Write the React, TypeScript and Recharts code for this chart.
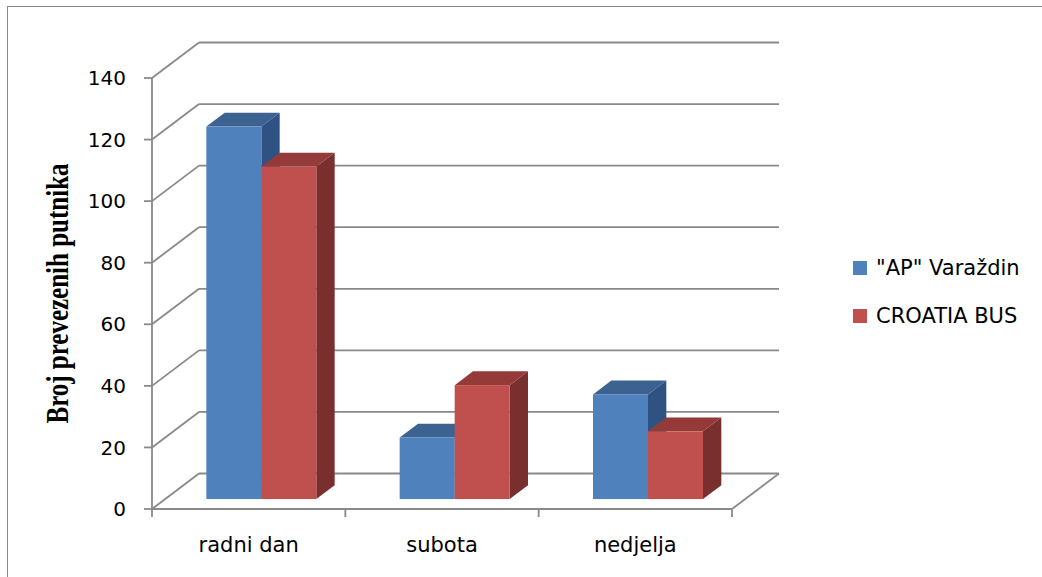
import React from "react";
import { Bar, BarChart, CartesianGrid, XAxis, YAxis } from "recharts";

export const days = ["radni dan", "subota", "nedjelja"];
export const apVarazdin = [121, 20, 34];
export const croatiaBus = [108, 37, 22];
export const yTicks = [0, 20, 40, 60, 80, 100, 120, 140];

const seriesNames = ['"AP" Varaždin', "CROATIA BUS"];

const data = days.map((day, i) => ({
  day,
  ap: apVarazdin[i],
  cb: croatiaBus[i],
}));

// oblique depth of the whole "box" (front plane -> back wall)
const DX = 47;
const DY = 35.5;
// bars start a bit behind the front plane and have their own depth
const BAR_FRONT = 0.28;
const BAR_DEPTH = 0.39;

const GRID = "#898989";
const LW = 1.8;
const FONT = "'DejaVu Sans', sans-serif";

const colors = {
  ap: { front: "#4F81BD", top: "#3C6292", side: "#2F5283" },
  cb: { front: "#C0504D", top: "#943B39", side: "#7A2F2F" },
};

const makeBar = (c: { front: string; top: string; side: string }) => (props: any) => {
  const { x, y, width, height } = props;
  const fx = x + DX * BAR_FRONT;
  const fy = y - DY * BAR_FRONT;
  const dx = DX * BAR_DEPTH;
  const dy = DY * BAR_DEPTH;
  const r = fx + width;
  const b = fy + height;
  return (
    <g>
      <polygon
        points={`${fx},${fy} ${fx + dx},${fy - dy} ${r + dx},${fy - dy} ${r},${fy}`}
        fill={c.top}
      />
      <polygon
        points={`${r},${fy} ${r + dx},${fy - dy} ${r + dx},${b - dy} ${r},${b}`}
        fill={c.side}
      />
      <rect x={fx} y={fy} width={width} height={height} fill={c.front} />
    </g>
  );
};

const gridLine = (props: any) => {
  const { x1, y1, x2, key } = props;
  return (
    <g key={key}>
      <line x1={x1} y1={y1} x2={x1 + DX} y2={y1 - DY} stroke={GRID} strokeWidth={LW} />
      <line x1={x1 + DX} y1={y1 - DY} x2={x2 + DX} y2={y1 - DY} stroke={GRID} strokeWidth={LW} />
    </g>
  );
};

const DayTick = (props: any) => {
  const { x, y, payload, index, visibleTicksCount } = props;
  const half = payload.offset ?? 0;
  const last = index === visibleTicksCount - 1;
  return (
    <g>
      <line x1={x - half} y1={y} x2={x - half} y2={y + 8} stroke={GRID} strokeWidth={LW} />
      {last && (
        <>
          <line x1={x + half} y1={y} x2={x + half} y2={y + 8} stroke={GRID} strokeWidth={LW} />
          <line x1={x + half} y1={y} x2={x + half + DX} y2={y - DY} stroke={GRID} strokeWidth={LW} />
        </>
      )}
      <text x={x} y={y + 43} textAnchor="middle" fontFamily={FONT} fontSize={21} fill="#000">
        {payload.value}
      </text>
    </g>
  );
};

const AxisTitle = (props: any) => {
  const { viewBox } = props;
  const cx = viewBox.x + 68;
  const cy = viewBox.y + viewBox.height / 2;
  return (
    <text
      x={0}
      y={0}
      transform={`translate(${cx}, ${cy}) rotate(-90) scale(1, 1.25)`}
      textAnchor="middle"
      fontFamily="'Liberation Serif', 'Times New Roman', serif"
      fontWeight="bold"
      fontSize={25}
      fill="#000"
    >
      Broj prevezenih putnika
    </text>
  );
};

export default function App() {
  return (
    <div
      style={{
        position: "absolute",
        left: 0,
        top: 0,
        width: 1042,
        height: 577,
        background: "#fff",
        overflow: "hidden",
      }}
    >
      <div
        style={{
          position: "absolute",
          left: 7,
          top: 6,
          width: 1100,
          height: 700,
          borderLeft: "1px solid #8a8a8a",
          borderTop: "1px solid #8a8a8a",
        }}
      />
      <div style={{ position: "absolute", left: 0, top: 0 }}>
        <BarChart
          width={1042}
          height={577}
          data={data}
          margin={{ top: 78, right: 310, bottom: 0, left: 0 }}
          barCategoryGap="21.3%"
          barGap={0}
        >
          <CartesianGrid vertical={false} horizontal={gridLine} />
          <XAxis
            dataKey="day"
            height={68}
            tickLine={false}
            tickSize={0}
            tickMargin={0}
            axisLine={{ stroke: GRID, strokeWidth: LW }}
            tick={<DayTick />}
            interval={0}
          />
          <YAxis
            width={152}
            domain={[0, 140]}
            ticks={yTicks}
            interval={0}
            tickSize={8}
            tickMargin={18}
            axisLine={{ stroke: GRID, strokeWidth: LW }}
            tickLine={{ stroke: GRID, strokeWidth: LW }}
            tick={{ fontFamily: FONT, fontSize: 20, fill: "#000" }}
            label={<AxisTitle />}
          />
          <Bar dataKey="ap" name={seriesNames[0]} shape={makeBar(colors.ap)} isAnimationActive={false} />
          <Bar dataKey="cb" name={seriesNames[1]} shape={makeBar(colors.cb)} isAnimationActive={false} />
        </BarChart>
      </div>
      <div style={{ position: "absolute", left: 853, top: 256, fontFamily: FONT, fontSize: 21 }}>
        {seriesNames.map((name, i) => (
          <div key={name} style={{ display: "flex", alignItems: "center", height: 24, marginBottom: i === 0 ? 24 : 0 }}>
            <span
              style={{
                display: "inline-block",
                width: 14,
                height: 14,
                background: i === 0 ? colors.ap.front : colors.cb.front,
                marginRight: 9,
              }}
            />
            <span>{name}</span>
          </div>
        ))}
      </div>
    </div>
  );
}
